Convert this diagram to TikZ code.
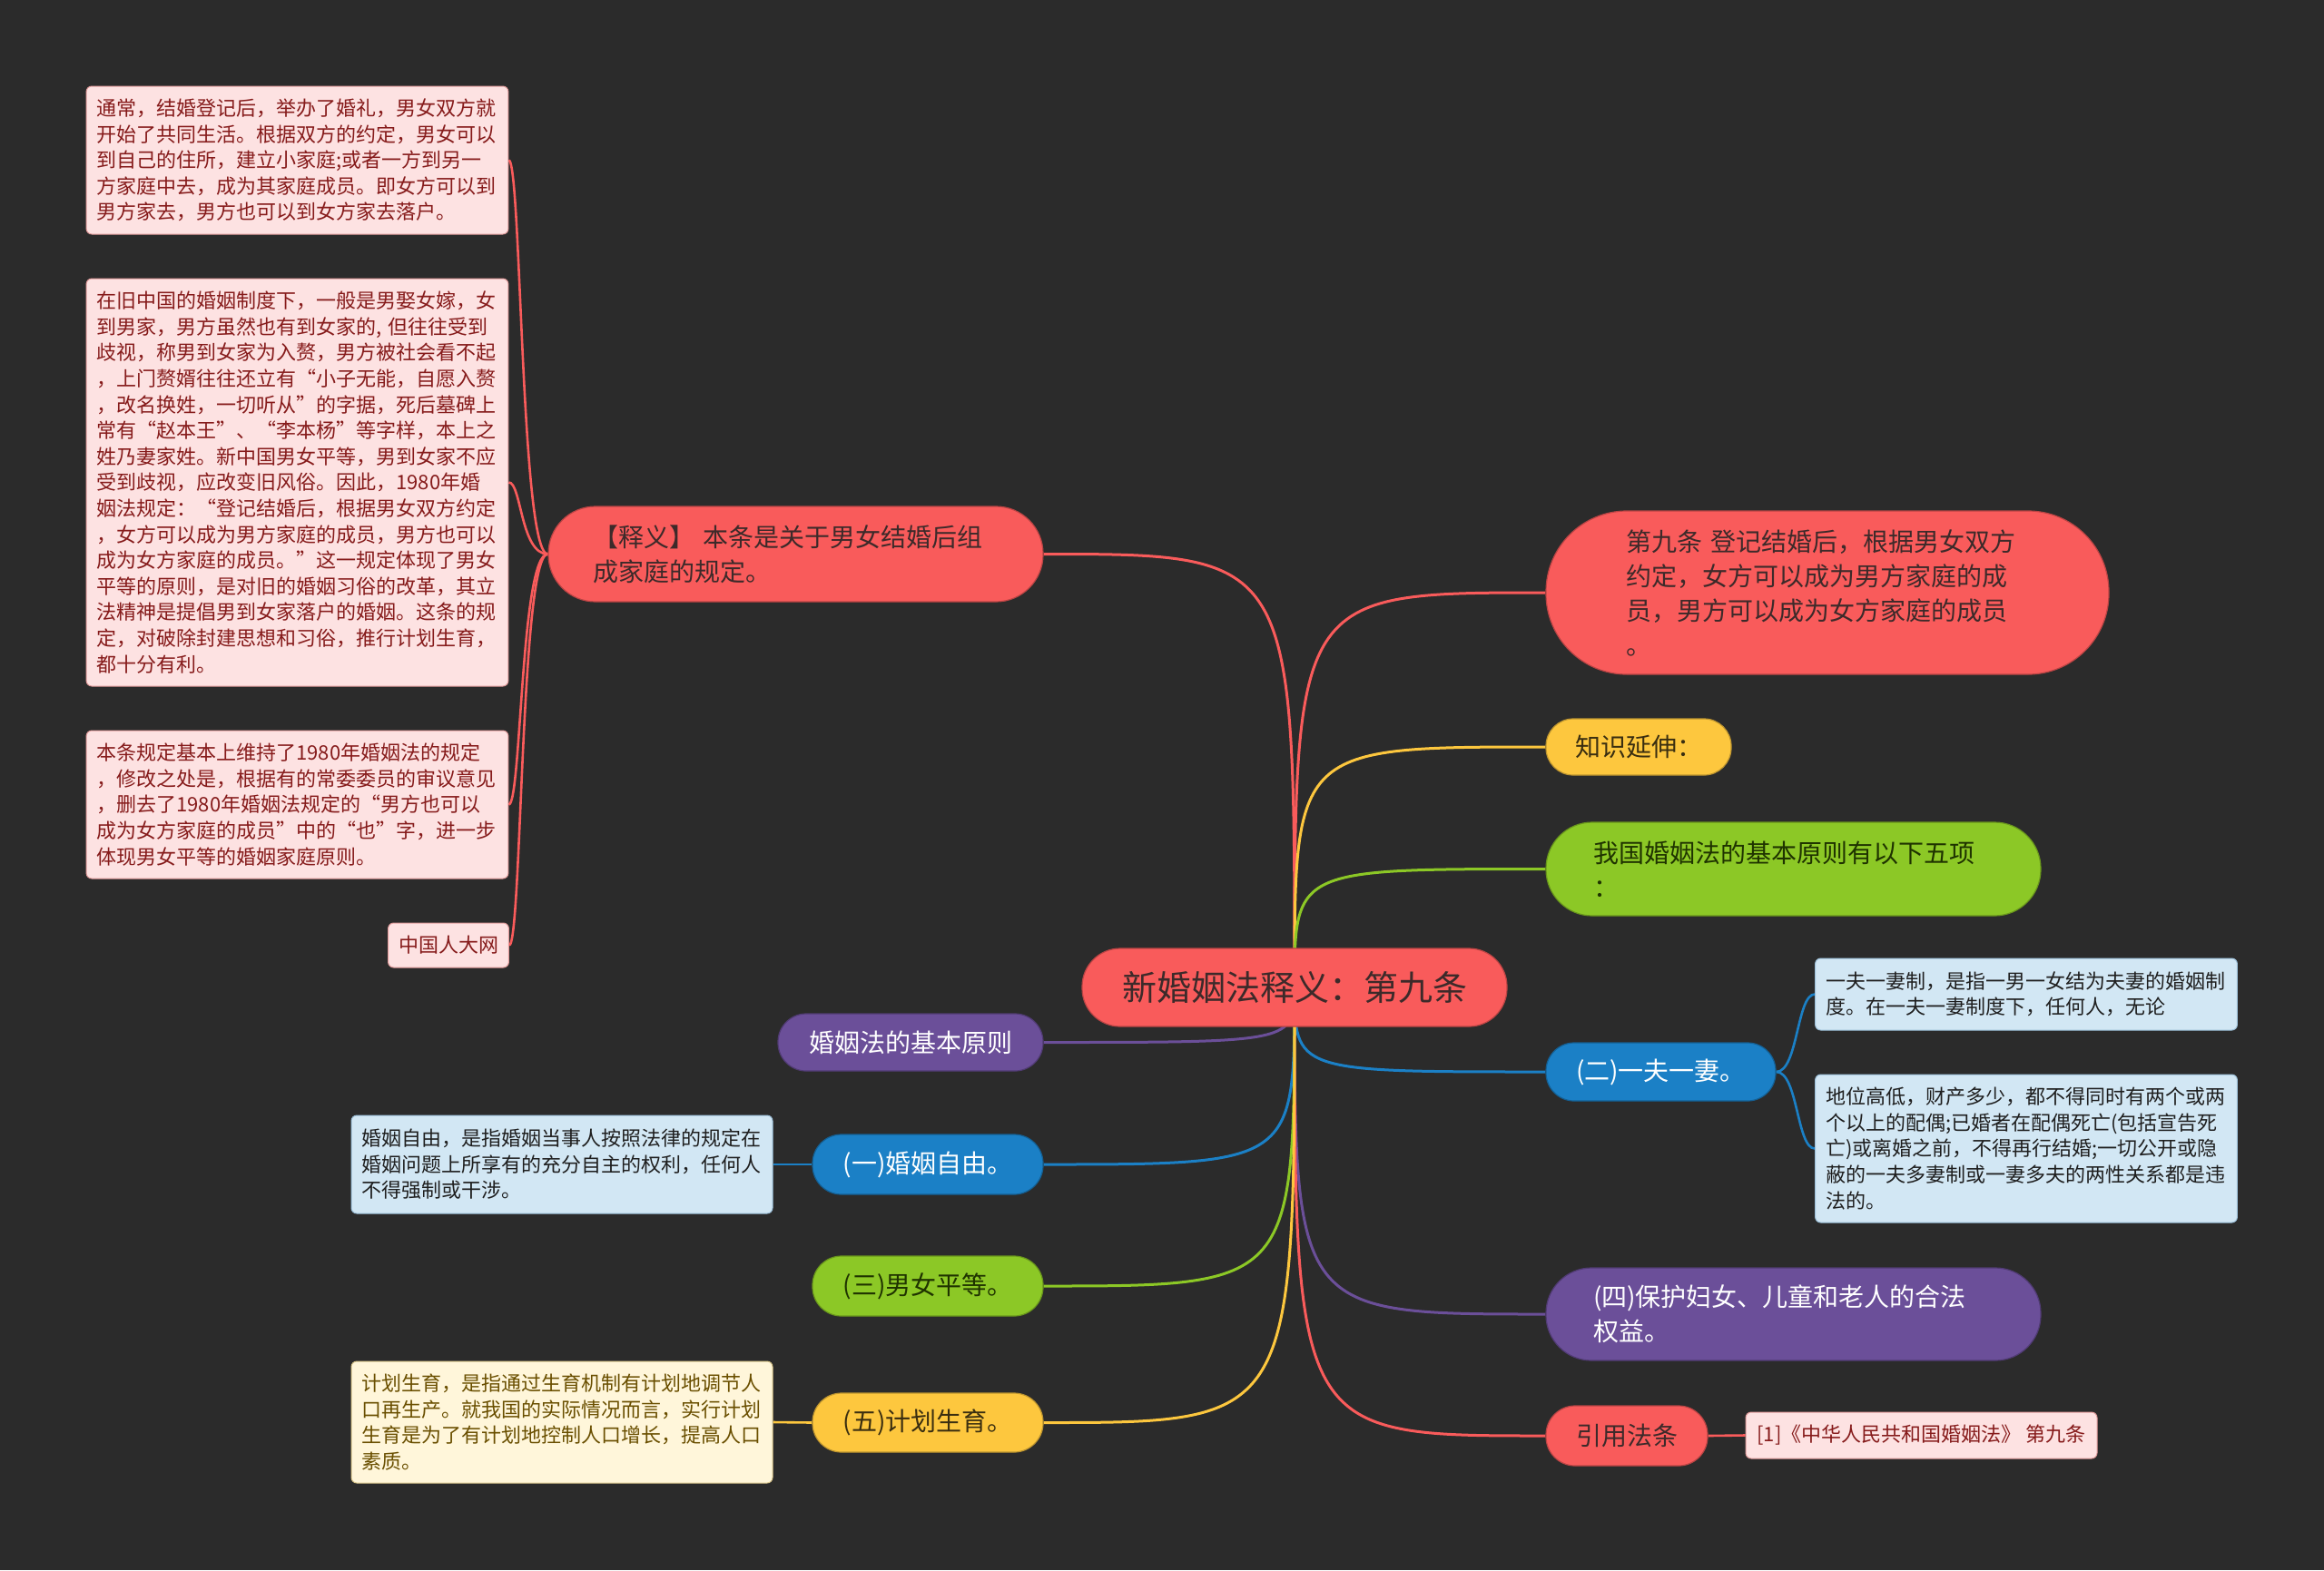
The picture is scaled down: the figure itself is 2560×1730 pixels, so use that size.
\documentclass[tikz,border=0pt]{standalone}
\usepackage{fontspec}
\setmainfont{Noto Sans CJK SC}
\usetikzlibrary{backgrounds}
\definecolor{bgc}{HTML}{2B2B2B}
\definecolor{cred}{HTML}{F95B5B}
\definecolor{cyellow}{HTML}{FDC73E}
\definecolor{cgreen}{HTML}{8CC826}
\definecolor{cblue}{HTML}{1B80C6}
\definecolor{cpurple}{HTML}{6B4F99}
\definecolor{tdark}{HTML}{3D2A2A}
\definecolor{tgreen}{HTML}{1F3300}
\definecolor{tyellow}{HTML}{3A2E10}
\definecolor{npink}{HTML}{FDE2E2}
\definecolor{npinkb}{HTML}{E09A9A}
\definecolor{npinkt}{HTML}{861B1B}
\definecolor{nblue}{HTML}{D2E7F4}
\definecolor{nblueb}{HTML}{9CC0DA}
\definecolor{nbluet}{HTML}{1F1F1F}
\definecolor{ncream}{HTML}{FFF6DA}
\definecolor{ncreamb}{HTML}{D8C58A}
\definecolor{ncreamt}{HTML}{6A4F00}
\tikzset{
  conn/.style={line width=1.5pt},
  subconn/.style={line width=1.3pt},
  mainbox/.style={draw=#1!75!black, fill=#1, line width=0.6pt, inner sep=0pt,
    font=\fontsize{14}{19}\selectfont},
  notebox/.style={rounded corners=3pt, line width=0.5pt, inner xsep=5.7pt,
    inner ysep=0pt, align=left, font=\fontsize{11}{14.3}\selectfont},
  pinknote/.style={notebox, fill=npink, draw=npinkb, text=npinkt},
  bluenote/.style={notebox, fill=nblue, draw=nblueb, text=nbluet},
  creamnote/.style={notebox, fill=ncream, draw=ncreamb, text=ncreamt}
}
\begin{document}
\begin{tikzpicture}[x=0.5pt,y=-0.5pt]
\useasboundingbox (0,0) rectangle (2560,1730);

% central
\node[mainbox=cred, text=tdark, minimum width=234pt, minimum height=43pt,
  rounded corners=21pt, font=\fontsize{19}{24}\selectfont] (C) at (1426,1088) {新婚姻法释义：第九条};

% right branches
\node[mainbox=cred, text=tdark, text width=222pt, align=left, inner xsep=44pt,
  minimum height=90pt, rounded corners=44.5pt] (R1) at (2013,653)
  {第九条 登记结婚后，根据男女双方\\约定，女方可以成为男方家庭的成\\员，男方可以成为女方家庭的成员\\。};
\node[mainbox=cyellow, text=tyellow, minimum width=102pt, minimum height=31pt,
  rounded corners=15pt] (R2) at (1805,823) {知识延伸：};
\node[mainbox=cgreen, text=tgreen, text width=220.5pt, align=left, inner xsep=26pt,
  minimum height=51.5pt, rounded corners=25.5pt] (R3) at (1975.5,957.5)
  {我国婚姻法的基本原则有以下五项\\：};
\node[mainbox=cblue, text=white, minimum width=126.5pt, minimum height=32pt,
  rounded corners=15.5pt] (R4) at (1829.5,1181) {(二)一夫一妻。};
\node[mainbox=cpurple, text=white, text width=220.5pt, align=left, inner xsep=26pt,
  minimum height=51pt, rounded corners=25pt] (R5) at (1975.5,1448)
  {(四)保护妇女、儿童和老人的合法\\权益。};
\node[mainbox=cred, text=tdark, minimum width=89pt, minimum height=33pt,
  rounded corners=16pt] (R6) at (1792,1582) {引用法条};

% right notes
\node[bluenote, text width=221pt, minimum height=39.5pt] (B1) at (2232,1095.5)
  {一夫一妻制，是指一男一女结为夫妻的婚姻制\\度。在一夫一妻制度下，任何人，无论};
\node[bluenote, text width=221pt, minimum height=81.5pt] (B2) at (2232,1265.5)
  {地位高低，财产多少，都不得同时有两个或两\\个以上的配偶;已婚者在配偶死亡(包括宣告死\\亡)或离婚之前，不得再行结婚;一切公开或隐\\蔽的一夫多妻制或一妻多夫的两性关系都是违\\法的。};
\node[pinknote, align=center, minimum width=193.5pt, minimum height=25.5pt] (R6n) at (2116.5,1581.5)
  {[1]《中华人民共和国婚姻法》 第九条};

% left branches
\node[mainbox=cred, text=tdark, text width=223.5pt, align=left, inner xsep=24.5pt,
  minimum height=52.5pt, rounded corners=26pt] (P) at (876.5,610.5)
  {【释义】 本条是关于男女结婚后组\\成家庭的规定。};
\node[mainbox=cpurple, text=white, minimum width=146pt, minimum height=31.5pt,
  rounded corners=15.5pt] (L1) at (1003,1148.5) {婚姻法的基本原则};
\node[mainbox=cblue, text=white, minimum width=127pt, minimum height=33pt,
  rounded corners=16pt] (L2) at (1022,1283) {(一)婚姻自由。};
\node[mainbox=cgreen, text=tgreen, minimum width=127pt, minimum height=33pt,
  rounded corners=16pt] (L3) at (1022,1417) {(三)男女平等。};
\node[mainbox=cyellow, text=tyellow, minimum width=127pt, minimum height=32.5pt,
  rounded corners=16pt] (L4) at (1022,1567.5) {(五)计划生育。};

% left notes
\node[pinknote, text width=221pt, minimum height=81.5pt] (NA) at (327.5,176.5)
  {通常，结婚登记后，举办了婚礼，男女双方就\\开始了共同生活。根据双方的约定，男女可以\\到自己的住所，建立小家庭;或者一方到另一\\方家庭中去，成为其家庭成员。即女方可以到\\男方家去，男方也可以到女方家去落户。};
\node[pinknote, text width=221pt, minimum height=224.5pt] (NB) at (327.5,531.5)
  {在旧中国的婚姻制度下，一般是男娶女嫁，女\\到男家，男方虽然也有到女家的, 但往往受到\\歧视，称男到女家为入赘，男方被社会看不起\\，上门赘婿往往还立有“小子无能，自愿入赘\\，改名换姓，一切听从”的字据，死后墓碑上\\常有“赵本王”、“李本杨”等字样，本上之\\姓乃妻家姓。新中国男女平等，男到女家不应\\受到歧视，应改变旧风俗。因此，1980年婚\\姻法规定：“登记结婚后，根据男女双方约定\\，女方可以成为男方家庭的成员，男方也可以\\成为女方家庭的成员。”这一规定体现了男女\\平等的原则，是对旧的婚姻习俗的改革，其立\\法精神是提倡男到女家落户的婚姻。这条的规\\定，对破除封建思想和习俗，推行计划生育，\\都十分有利。};
\node[pinknote, text width=221pt, minimum height=81.5pt] (NC) at (327.5,886.5)
  {本条规定基本上维持了1980年婚姻法的规定\\，修改之处是，根据有的常委委员的审议意见\\，删去了1980年婚姻法规定的“男方也可以\\成为女方家庭的成员”中的“也”字，进一步\\体现男女平等的婚姻家庭原则。};
\node[pinknote, align=center, minimum width=66pt, minimum height=24.5pt] (ND) at (494,1041.5) {中国人大网};
\node[bluenote, text width=220.6pt, minimum height=54pt] (L2n) at (619,1283)
  {婚姻自由，是指婚姻当事人按照法律的规定在\\婚姻问题上所享有的充分自主的权利，任何人\\不得强制或干涉。};
\node[creamnote, text width=220.6pt, minimum height=67pt] (L4n) at (619,1567)
  {计划生育，是指通过生育机制有计划地调节人\\口再生产。就我国的实际情况而言，实行计划\\生育是为了有计划地控制人口增长，提高人口\\素质。};

\begin{pgfonlayer}{background}
\fill[bgc] (0,0) rectangle (2560,1730);
% central connectors
\draw[conn, cred] (C.center) .. controls (C.center |- P.east) .. (P.east);
\draw[conn, cred] (C.center) .. controls (C.center |- R1.west) .. (R1.west);
\draw[conn, cyellow] (C.center) .. controls (C.center |- R2.west) .. (R2.west);
\draw[conn, cgreen] (C.center) .. controls (C.center |- R3.west) .. (R3.west);
\draw[conn, cblue] (C.center) .. controls (C.center |- R4.west) .. (R4.west);
\draw[conn, cpurple] (C.center) .. controls (C.center |- R5.west) .. (R5.west);
\draw[conn, cred] (C.center) .. controls (C.center |- R6.west) .. (R6.west);
\draw[conn, cpurple] (C.center) .. controls (C.center |- L1.east) .. (L1.east);
\draw[conn, cblue] (C.center) .. controls (C.center |- L2.east) .. (L2.east);
\draw[conn, cgreen] (C.center) .. controls (C.center |- L3.east) .. (L3.east);
\draw[conn, cyellow] (C.center) .. controls (C.center |- L4.east) .. (L4.east);
% sub connectors
\draw[subconn, cred] (P.west) .. controls +(-30,0) and +(14,0) .. (NA.east);
\draw[subconn, cred] (P.west) .. controls +(-30,0) and +(14,0) .. (NB.east);
\draw[subconn, cred] (P.west) .. controls +(-30,0) and +(14,0) .. (NC.east);
\draw[subconn, cred] (P.west) .. controls +(-30,0) and +(14,0) .. (ND.east);
\draw[subconn, cblue] (R4.east) .. controls +(24,0) and +(-20,0) .. (B1.west);
\draw[subconn, cblue] (R4.east) .. controls +(24,0) and +(-20,0) .. (B2.west);
\draw[subconn, cblue] (L2.west) -- (L2n.east);
\draw[subconn, cyellow] (L4.west) -- (L4n.east);
\draw[subconn, cred] (R6.east) -- (R6n.west);
\end{pgfonlayer}
\end{tikzpicture}
\end{document}
